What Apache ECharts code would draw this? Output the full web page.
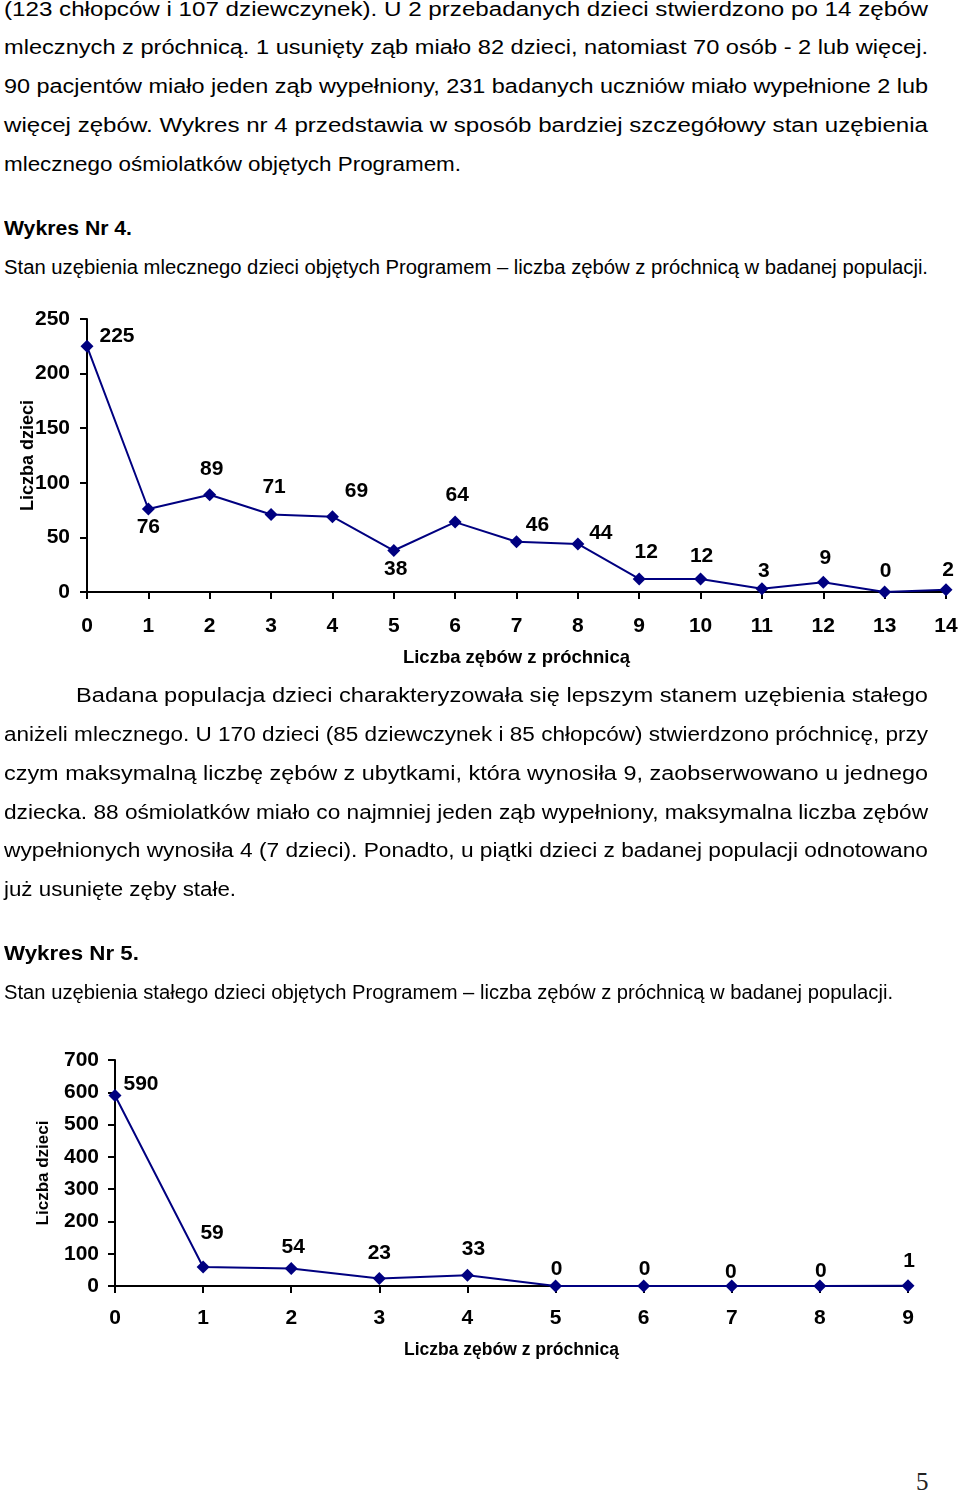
<!DOCTYPE html>
<html><head><meta charset="utf-8">
<script src="https://cdn.jsdelivr.net/npm/echarts@6/dist/echarts.min.js"></script>
<style>
html,body{margin:0;padding:0;background:#fff;}
body{width:960px;height:1493px;position:relative;overflow:hidden;font-family:"Liberation Sans",Arial,sans-serif;color:#000;}
.ln{position:absolute;white-space:nowrap;display:inline-block;line-height:40px;height:40px;transform-origin:0 50%;}
.chart{position:absolute;left:0;width:960px;}
#pg{position:absolute;left:916px;top:1468px;font-family:"Liberation Serif","DejaVu Serif",serif;font-size:25px;color:#222;}
</style></head>
<body>
<div id="c4" class="chart" style="top:290px;height:390px;"></div>
<div id="c5" class="chart" style="top:1040px;height:340px;"></div>
<div id="pg">5</div>
<script>
// ---- Data ----
const chart4Categories = ['0','1','2','3','4','5','6','7','8','9','10','11','12','13','14'];
const chart4Values = [225, 76, 89, 71, 69, 38, 64, 46, 44, 12, 12, 3, 9, 0, 2];
const chart4YTicks = {min: 0, max: 250, interval: 50};

const chart5Categories = ['0','1','2','3','4','5','6','7','8','9'];
const chart5Values = [590, 59, 54, 23, 33, 0, 0, 0, 0, 1];
const chart5YTicks = {min: 0, max: 700, interval: 100};

const yAxisTitle = 'Liczba dzieci';
const xAxisTitle = 'Liczba zębów z próchnicą';

// ---- Label placement (style) ----
const chart4LabelOffsets = [[30,-10],[0,18],[2,-26],[3,-27],[24,-25],[2,19],[2,-27],[21,-17],[23,-11],[7,-27],[1,-23],[2,-18],[2,-24],[1,-21],[2,-20]];
const chart5LabelOffsets = [[26,-11],[9,-34],[2,-21],[0,-25],[6,-26],[1,-17],[1,-17],[-1,-14],[1,-15],[1,-24]];

// ---- Text lines ----
const F = '"Liberation Sans",Arial,sans-serif';
const lines = [
  ['(123 chłopców i 107 dziewczynek). U 2 przebadanych dzieci stwierdzono po 14 zębów', 4, 9, 924, 'normal'],
  ['mlecznych z próchnicą. 1 usunięty ząb miało 82 dzieci, natomiast 70 osób - 2 lub więcej.', 4, 47, 924, 'normal'],
  ['90 pacjentów miało jeden ząb wypełniony, 231 badanych uczniów miało wypełnione 2 lub', 4, 86, 924, 'normal'],
  ['więcej zębów. Wykres nr 4 przedstawia w sposób bardziej szczegółowy stan uzębienia', 4, 125, 924, 'normal'],
  ['mlecznego ośmiolatków objętych Programem.', 4, 164, 457, 'normal'],
  ['Wykres Nr 4.', 4, 228, 128, 'bold'],
  ['Stan uzębienia mlecznego dzieci objętych Programem – liczba zębów z próchnicą w badanej populacji.', 4, 267, 924, 'normal'],
  ['Badana populacja dzieci charakteryzowała się lepszym stanem uzębienia stałego', 76, 695, 852, 'normal'],
  ['aniżeli mlecznego. U 170 dzieci (85 dziewczynek i 85 chłopców) stwierdzono próchnicę, przy', 4, 734, 924, 'normal'],
  ['czym maksymalną liczbę zębów z ubytkami, która wynosiła 9, zaobserwowano u jednego', 4, 773, 924, 'normal'],
  ['dziecka. 88 ośmiolatków miało co najmniej jeden ząb wypełniony, maksymalna liczba zębów', 4, 812, 924, 'normal'],
  ['wypełnionych wynosiła 4 (7 dzieci). Ponadto, u piątki dzieci z badanej populacji odnotowano', 4, 850, 924, 'normal'],
  ['już usunięte zęby stałe.', 4, 889, 232, 'normal'],
  ['Wykres Nr 5.', 4, 953, 135, 'bold'],
  ['Stan uzębienia stałego dzieci objętych Programem – liczba zębów z próchnicą w badanej populacji.', 4, 992, 889, 'normal']
];
lines.forEach(([t, x, y, w, wt]) => {
  const d = document.createElement('div');
  d.className = 'ln';
  d.style.left = x + 'px';
  d.style.top = (y - 20) + 'px';
  d.style.font = wt + ' 20px ' + F;
  d.style.lineHeight = '40px';
  d.textContent = t;
  document.body.appendChild(d);
  const nat = d.getBoundingClientRect().width;
  d.style.transform = 'scaleX(' + (w / nat) + ')';
});

// ---- Charts ----
const FONT = '"Liberation Sans",Arial,sans-serif';
const NAVY = '#000080';
function makeOption(cats, vals, offs, yt, grid, o) {
  grid.outerBoundsMode = 'none';
  grid.containLabel = false;
  return {
    animation: false,
    grid: grid,
    xAxis: {
      type: 'category', data: cats, boundaryGap: false,
      axisLine: {lineStyle: {color: '#000', width: 2}},
      axisTick: {alignWithLabel: true, inside: false, length: 7, lineStyle: {color: '#000', width: 2}},
      axisLabel: {color: '#000', fontFamily: FONT, fontWeight: 'bold', fontSize: 21, margin: o.xMargin, interval: 0},
      splitLine: {show: false},
      name: xAxisTitle, nameLocation: 'middle', nameGap: o.xNameGap, nameMoveOverlap: false,
      nameTextStyle: {color: '#000', fontFamily: FONT, fontWeight: 'bold', fontSize: o.xNameSize}
    },
    yAxis: {
      type: 'value', min: yt.min, max: yt.max, interval: yt.interval,
      axisLine: {show: true, lineStyle: {color: '#000', width: 2}},
      axisTick: {show: true, inside: false, length: 7, lineStyle: {color: '#000', width: 2}},
      axisLabel: {color: '#000', fontFamily: FONT, fontWeight: 'bold', fontSize: 21, margin: o.yMargin},
      splitLine: {show: false},
      name: yAxisTitle, nameLocation: 'middle', nameRotate: 90, nameGap: o.yNameGap, nameMoveOverlap: false,
      nameTextStyle: {color: '#000', fontFamily: FONT, fontWeight: 'bold', fontSize: o.yNameSize}
    },
    series: [{
      type: 'line',
      data: vals.map((v, i) => ({value: v, label: {offset: offs[i]}})),
      symbol: 'diamond', symbolSize: 13,
      lineStyle: {color: NAVY, width: 2},
      itemStyle: {color: NAVY},
      label: {show: true, position: 'inside', color: '#000', fontFamily: FONT, fontWeight: 'bold', fontSize: 21, align: 'center', verticalAlign: 'middle'},
      z: 5
    }]
  };
}
const c4 = echarts.init(document.getElementById('c4'));
c4.setOption(makeOption(chart4Categories, chart4Values, chart4LabelOffsets, chart4YTicks,
  {left: 87, right: 14, top: 29, bottom: 88},
  {xMargin: 24, xNameGap: 56, xNameSize: 18.5, yMargin: 17, yNameGap: 50, yNameSize: 18}));
const c5 = echarts.init(document.getElementById('c5'));
c5.setOption(makeOption(chart5Categories, chart5Values, chart5LabelOffsets, chart5YTicks,
  {left: 115, right: 52, top: 20, bottom: 94},
  {xMargin: 22, xNameGap: 55, xNameSize: 17.5, yMargin: 16, yNameGap: 63, yNameSize: 17}));
</script>
</body></html>
